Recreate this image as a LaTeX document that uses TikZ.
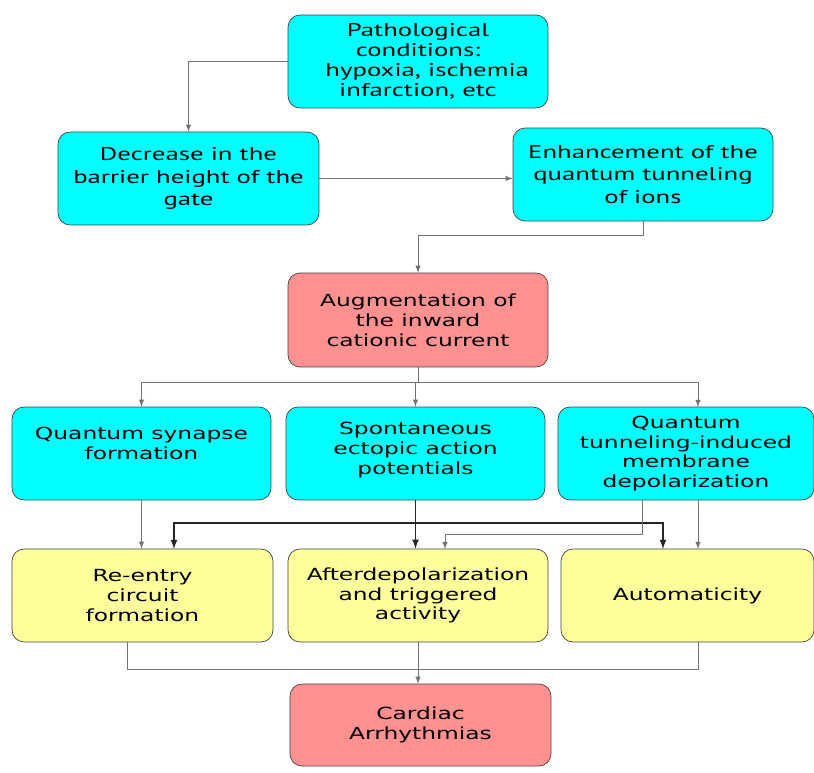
\documentclass[tikz,border=0pt]{standalone}
\usepackage{fontspec}
\newfontfamily\topfont[FakeStretch=1.45]{PT Sans}
\newfontfamily\lowfont[FakeStretch=1.4]{DejaVu Sans}
\definecolor{boxcyan}{HTML}{00FFFF}
\definecolor{boxred}{HTML}{FF9190}
\definecolor{boxyel}{HTML}{FFFF9C}

\tikzstyle{cell} = [minimum height=1.86cm, minimum width=5.2cm, rectangle, rounded corners=0.24cm, align=center, inner sep=0pt, style={draw=black!75, thin}]
\tikzstyle{topcell} = [cell, fill=boxcyan, font=\topfont\fontsize{10.5}{12.8}\selectfont]
\tikzstyle{cyancell} = [cell, fill=boxcyan, font=\lowfont\fontsize{9.5}{11.3}\selectfont]
\tikzstyle{redcell} = [cell, fill=boxred, font=\lowfont\fontsize{9.5}{11.3}\selectfont]
\tikzstyle{yelcell} = [cell, fill=boxyel, font=\lowfont\fontsize{9.5}{11.3}\selectfont]
\tikzstyle{fil} = [->, >=latex, style={draw=black!55, thin}]
\tikzstyle{fat} = [->, >=latex, style={draw=black!85, thick}]

\begin{document}
\begin{tikzpicture}[x=0.02cm, y=-0.02cm]
	\useasboundingbox[fill=white] (0,0) rectangle (814,773);

% Top cells
	\node[topcell, font=\topfont\fontsize{10.5}{11.4}\selectfont] at (418,61.5) (path) {Pathological\\conditions:\\ \quad hypoxia, ischemia\\infarction, etc};
	\node[topcell, minimum width=5.22cm] at (188.5,178.5) (decr) {Decrease in the\\barrier height of the\\gate};
	\node[topcell] at (643,174.5) (enh) {Enhancement of the\\quantum tunneling\\of ions};

% Current
	\node[redcell, minimum height=1.88cm] at (418,320) (aug) {Augmentation of\\the inward\\cationic current};

% Mechanisms
	\node[cyancell, minimum width=5.18cm] at (141.5,453.5) (qs) {Quantum synapse\\formation\\\mbox{}};
	\node[cyancell, minimum width=5.18cm] at (415.5,453.5) (spont) {Spontaneous\\ectopic action\\potentials\\[-5.7pt]\mbox{}};
	\node[cyancell, minimum width=5.12cm] at (686,453.5) (qt) {Quantum\\tunneling-induced\\membrane\\depolarization};

% Consequences
	\node[yelcell, minimum width=5.22cm] at (142.5,595.5) (reentry) {Re-entry\\circuit\\formation};
	\node[yelcell] at (418,595.5) (after) {Afterdepolarization\\and triggered\\activity};
	\node[yelcell, minimum width=5.06cm] at (687.5,595.5) (auto) {Automaticity};

% Outcome
	\node[redcell, minimum width=5.22cm, minimum height=1.64cm] at (420.5,725) (card) {Cardiac\\Arrhythmias};

% Bend points
	\coordinate (bendA) at (0,235);
	\coordinate (bendB) at (0,382);
	\coordinate (busA) at (0,523);
	\coordinate (busB) at (0,534);
	\coordinate (bendC) at (0,669);
	\coordinate (qtIn) at (698,407);
	\coordinate (qtOut) at (642,500);
	\coordinate (qtOut2) at (698,500);
	\coordinate (reIn) at (174,549);
	\coordinate (afIn) at (445,549);
	\coordinate (auIn) at (663,549);
	\coordinate (auIn2) at (698,549);
	\coordinate (reOut) at (127,642);
	\coordinate (auOut) at (698,642);

	\draw[fil] (path.west) -| (decr.north);
	\draw[fil] (decr) -- (enh.west |- decr);
	\draw[fil] (enh.south) -- (enh.south |- bendA) -- (aug.north |- bendA) -- (aug.north);

	\draw[thin, black!55] (aug.south) -- (aug.south |- bendB);
	\draw[fil] (aug.south |- bendB) -| (qs.north);
	\draw[fil] (spont.north |- bendB) -- (spont.north);
	\draw[fil] (aug.south |- bendB) -| (qtIn);

	\draw[fil] (qs.south) -- (qs.south |- reentry.north);
	\draw[fat] (spont.south) -- (spont.south |- after.north);
	\draw[fat] (spont.south |- busA) -| (reIn);
	\draw[fat] (spont.south |- busA) -| (auIn);
	\draw[fil] (qtOut) |- (afIn |- busB) -- (afIn);
	\draw[fil] (qtOut2) -- (auIn2);

	\draw[thin, black!55] (reOut) |- (auOut |- bendC) -- (auOut);
	\draw[fil] (after.south) -- (card.north -| after.south);
\end{tikzpicture}
\end{document}
